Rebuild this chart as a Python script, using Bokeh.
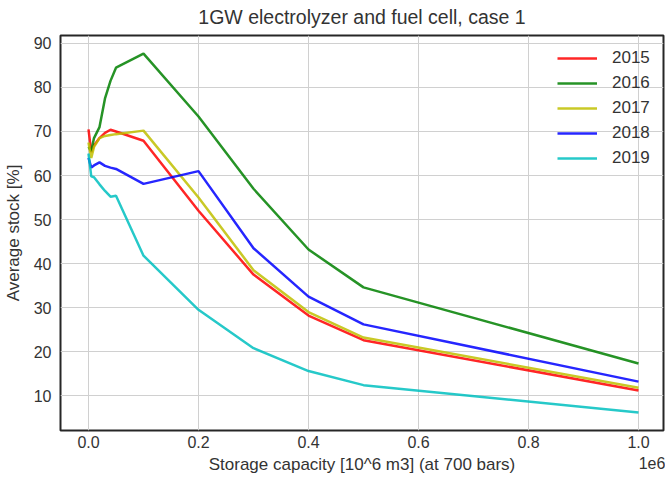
from bokeh.plotting import figure
from bokeh.models import (Range1d, FixedTicker, CustomJSTickFormatter, Legend, LegendItem,
                          LinearAxis)
from bokeh.embed import file_html
from bokeh.resources import INLINE

# Storage capacity (m3)
capacity = [0, 5000, 10000, 20000, 30000, 40000, 50000, 100000, 200000, 300000, 400000, 500000, 1000000]

# Average stock [%] per year
stock_2015 = [70.5, 65.3, 66.8, 68.5, 69.7, 70.4, 70.0, 67.9, 52.0, 37.5, 28.2, 22.6, 11.2]
stock_2016 = [66.5, 65.5, 68.5, 71.0, 77.5, 81.5, 84.5, 87.7, 73.4, 57.0, 43.2, 34.6, 17.3]
stock_2017 = [67.5, 64.0, 66.5, 68.5, 69.0, 69.2, 69.4, 70.2, 55.0, 38.5, 29.0, 23.2, 11.8]
stock_2018 = [64.0, 61.8, 62.3, 63.0, 62.2, 61.8, 61.5, 58.1, 61.0, 43.5, 32.5, 26.2, 13.2]
stock_2019 = [65.0, 59.8, 59.6, 58.0, 56.5, 55.2, 55.4, 41.8, 29.5, 20.8, 15.6, 12.4, 6.2]

years = ["2015", "2016", "2017", "2018", "2019"]
series = [stock_2015, stock_2016, stock_2017, stock_2018, stock_2019]
colors = ["#ff0000", "#008000", "#bfbf00", "#0000ff", "#00bfbf"]

x_ticks = [0, 200000, 400000, 600000, 800000, 1000000]
y_ticks = [10, 20, 30, 40, 50, 60, 70, 80, 90]

title_text = "1GW electrolyzer and fuel cell, case 1"
x_label = "Storage capacity [10^6 m3] (at 700 bars)"
y_label = "Average stock [%]"
x_scale_text = "1e6"

FONT = "Liberation Sans"
TXT = "#333333"
X0, X1 = -50909, 1045454
SCALE_POS = 1025000

p = figure(width=665, height=480, output_backend="svg", toolbar_location=None,
           x_range=Range1d(X0, X1), y_range=Range1d(2.1, 91.8),
           min_border_left=60, min_border_right=2, min_border_top=35, min_border_bottom=50)

p.title.text = title_text
p.title.align = "center"
p.title.vertical_align = "top"
p.title.text_font = FONT
p.title.text_font_size = "19.5px"
p.title.text_font_style = "normal"
p.title.text_color = TXT
p.title.standoff = 11

p.background_fill_color = "white"
p.border_fill_color = "white"
p.outline_line_color = "#262626"
p.outline_line_width = 2

# second bottom axis carrying the axis title and the "1e6" offset text
scale_axis = LinearAxis(ticker=FixedTicker(ticks=[SCALE_POS]),
                        major_label_overrides={SCALE_POS: x_scale_text})
p.add_layout(scale_axis, "below")

for ax in p.axis:
    ax.axis_line_color = None
    ax.major_tick_line_color = None
    ax.minor_tick_line_color = None
    ax.major_tick_out = 0
    ax.major_tick_in = 0
    ax.minor_tick_out = 0
    ax.minor_tick_in = 0
    ax.major_label_text_font = FONT
    ax.major_label_text_font_size = "16px"
    ax.major_label_text_color = TXT
    ax.axis_label_text_font = FONT
    ax.axis_label_text_font_size = "17px"
    ax.axis_label_text_font_style = "normal"
    ax.axis_label_text_color = TXT

xaxis_main = p.xaxis[0]
xaxis_main.ticker = FixedTicker(ticks=x_ticks)
xaxis_main.formatter = CustomJSTickFormatter(code="return (tick/1e6).toFixed(1);")
xaxis_main.major_label_standoff = 5

scale_axis.major_label_standoff = 6
scale_axis.axis_label = x_label
scale_axis.axis_label_standoff = -17

p.yaxis.ticker = FixedTicker(ticks=y_ticks)
p.yaxis.major_label_standoff = 9
p.yaxis.axis_label = y_label
p.yaxis.axis_label_standoff = 8

p.xgrid.grid_line_color = "#d0d0d0"
p.ygrid.grid_line_color = "#d0d0d0"
p.xgrid.ticker = FixedTicker(ticks=x_ticks)

items = []
for yr, vals, c in zip(years, series, colors):
    r = p.line(capacity, vals, line_color=c, line_width=2.5, line_alpha=0.85)
    items.append(LegendItem(label=yr, renderers=[r]))

legend = Legend(items=items, location=(492, 256))
legend.background_fill_alpha = 0
legend.border_line_alpha = 0
legend.label_text_font = FONT
legend.label_text_font_size = "17px"
legend.label_text_color = TXT
legend.glyph_width = 40
legend.glyph_height = 22
legend.label_height = 22
legend.spacing = 3
legend.label_standoff = 15
legend.margin = 0
legend.padding = 5
p.add_layout(legend)

open("out.html", "w").write(file_html(p, INLINE))
